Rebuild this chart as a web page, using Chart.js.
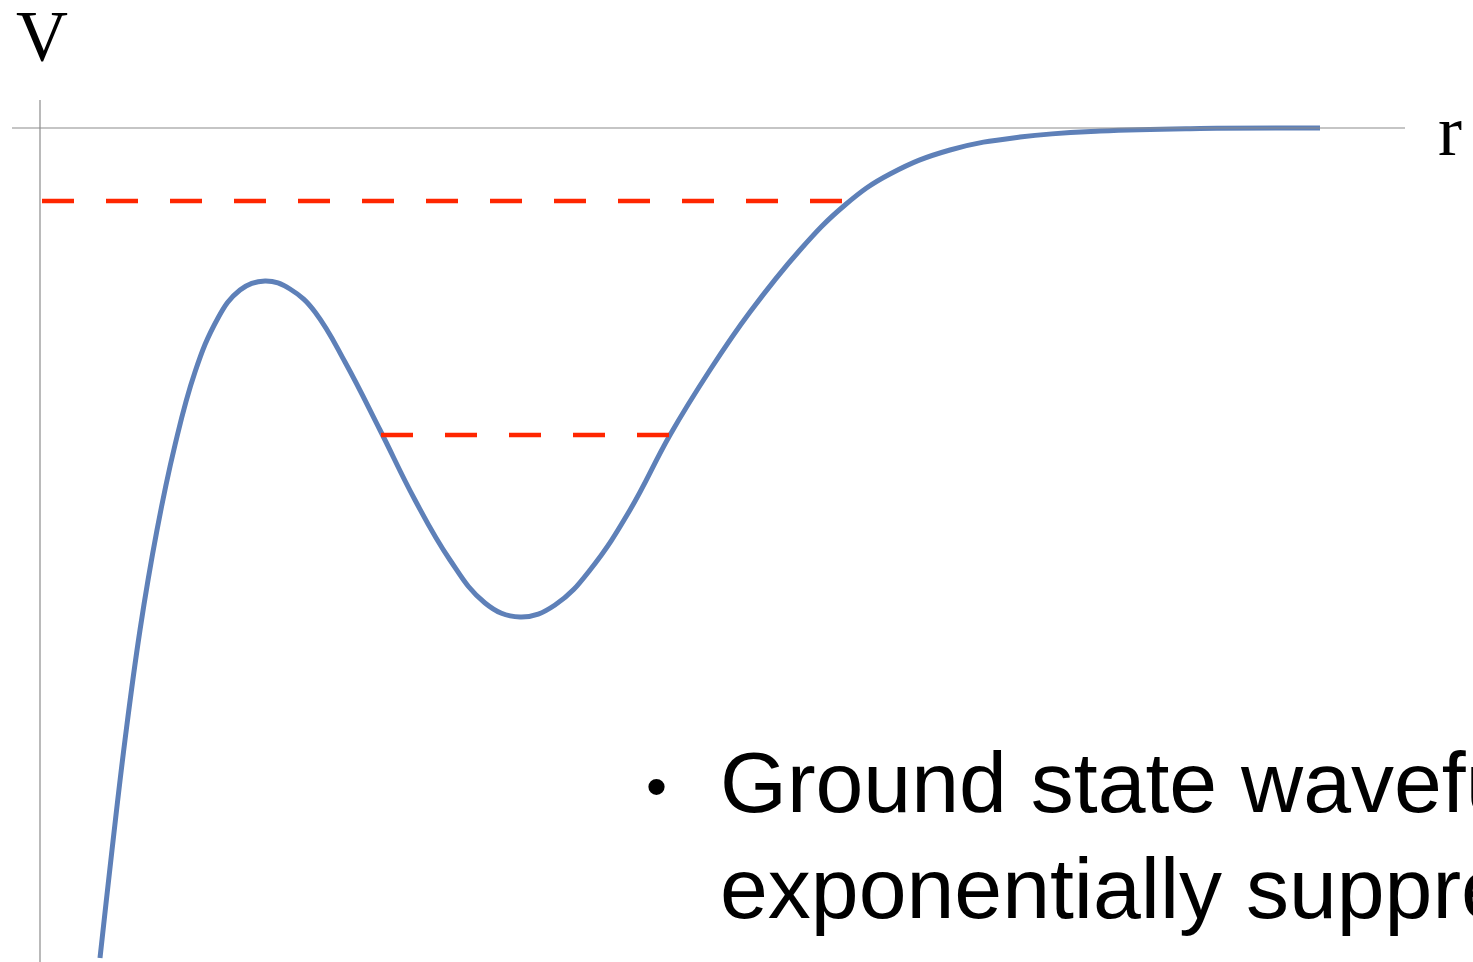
<!DOCTYPE html>
<html>
<head>
<meta charset="utf-8">
<script src="https://cdn.jsdelivr.net/npm/chart.js@4.4.1/dist/chart.umd.min.js"></script>
<style>
    html, body { margin: 0; padding: 0; background: #fff; }
    body { width: 1473px; height: 962px; overflow: hidden; position: relative; }
    #wrap { position: absolute; left: 12px; top: 100px; width: 1393px; height: 862px; }
    .lbl { position: absolute; font-family: "Liberation Serif", "DejaVu Serif", serif; font-size: 72px; line-height: 72px; color: #000; white-space: nowrap; }
    #bullet { position: absolute; left: 646px; top: 757px; font-family: "Liberation Sans", Arial, sans-serif; font-size: 60px; line-height: 60px; }
    #note { position: absolute; left: 720px; top: 729px; font-family: "Liberation Sans", Arial, sans-serif; font-size: 86px; line-height: 106px; color: #000; white-space: nowrap; }
</style>
</head>
<body>
<div class="lbl" style="left:16px; top:0px;">V</div>
<div class="lbl" style="left:1438px; top:95px;">r</div>
<div id="bullet">•</div>
<div id="note">Ground state wavefunction<br>exponentially suppressed</div>
<div id="wrap"><canvas id="chartPotential" width="1393" height="862"></canvas></div>
<script>
// potential curve V(r) (1 unit = 100 px)
const rValues = [0.60, 0.72, 0.85, 1.00, 1.17, 1.35, 1.55, 1.78, 2.00, 2.25, 2.50, 2.75, 3.05, 3.40, 3.75, 4.10, 4.45, 4.80, 5.15, 5.50, 5.90, 6.30, 6.70, 7.10, 7.60, 8.05, 8.50, 9.10, 9.80, 10.60, 11.60, 12.80];
const vValues = [-8.30, -7.22, -6.12, -5.02, -4.02, -3.17, -2.44, -1.90, -1.62, -1.53, -1.61, -1.84, -2.34, -3.02, -3.72, -4.32, -4.75, -4.89, -4.77, -4.42, -3.82, -3.07, -2.42, -1.84, -1.22, -0.77, -0.46, -0.22, -0.09, -0.03, -0.005, 0.00];

// dashed energy levels: [r start, r end, V]
const levelUpper = [0.02, 8.03, -0.73];
const levelLower = [3.41, 6.30, -3.07];

// axis extents
const rRange = [-0.28, 13.65];
const vRange = [-8.34, 0.28];

document.addEventListener('DOMContentLoaded', () => {
    let curve = [];
    for (let i = 0; i < rValues.length; i++) {
        curve.push({x: rValues[i], y: vValues[i]});
    }
    const level = l => [{x: l[0], y: l[2]}, {x: l[1], y: l[2]}];
    const axisColor = 'rgb(140, 140, 140)';
    const red = 'rgb(255, 38, 0)';

    new Chart('chartPotential', {
        type: 'line',
        data: {
            datasets: [
                {
                    data: [{x: rRange[0], y: 0}, {x: rRange[1], y: 0}],
                    borderColor: axisColor,
                    borderWidth: 1.2,
                    pointRadius: 0
                },
                {
                    data: [{x: 0, y: vRange[1]}, {x: 0, y: vRange[0]}],
                    borderColor: axisColor,
                    borderWidth: 1.2,
                    pointRadius: 0
                },
                {
                    data: level(levelUpper),
                    borderColor: red,
                    borderWidth: 4.5,
                    borderDash: [32, 32],
                    borderCapStyle: 'butt',
                    pointRadius: 0
                },
                {
                    data: level(levelLower),
                    borderColor: red,
                    borderWidth: 4.5,
                    borderDash: [32, 32],
                    borderCapStyle: 'butt',
                    pointRadius: 0
                },
                {
                    data: curve,
                    borderColor: 'rgb(94, 128, 184)',
                    borderWidth: 5,
                    pointRadius: 0,
                    tension: 0.4
                }
            ]
        },
        options: {
            responsive: false,
            animation: false,
            layout: { padding: 0 },
            scales: {
                x: { type: 'linear', min: rRange[0], max: rRange[1], display: false },
                y: { type: 'linear', min: vRange[0], max: vRange[1], display: false }
            },
            plugins: {
                legend: { display: false },
                tooltip: { enabled: false }
            }
        }
    });
});
</script>
</body>
</html>
